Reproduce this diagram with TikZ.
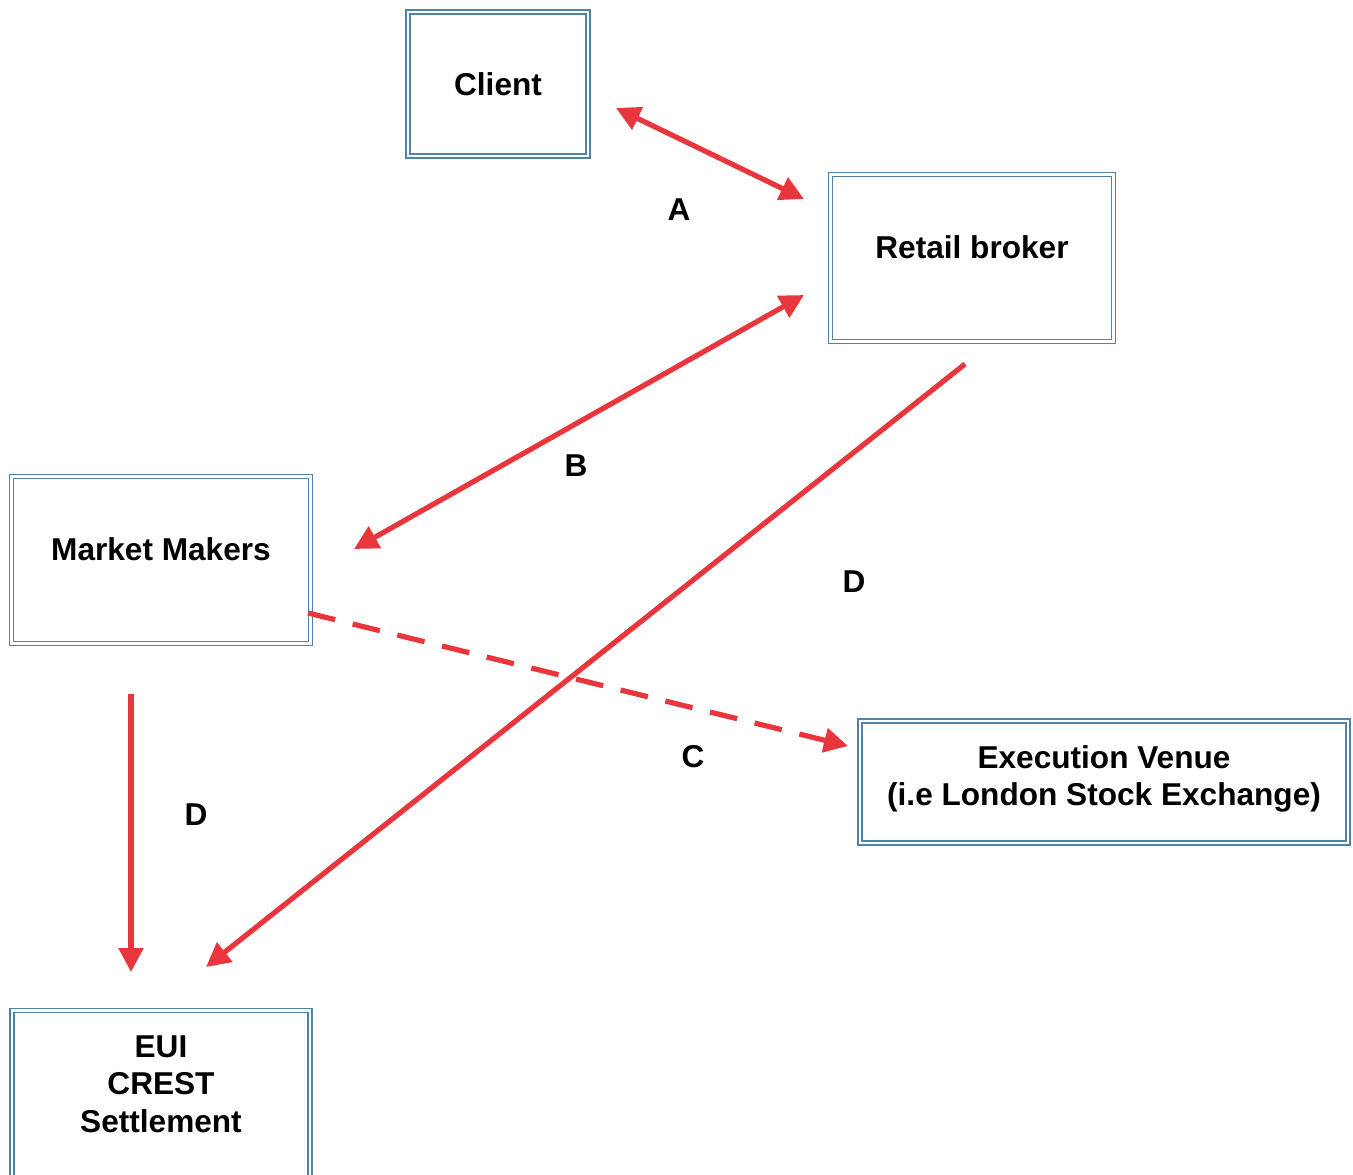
\documentclass[tikz,border=0pt]{standalone}
\usepackage{fontspec}
\setmainfont{Liberation Sans}
\usetikzlibrary{arrows.meta}
\definecolor{FlowRed}{HTML}{E8363C}
\definecolor{FrameBlue}{HTML}{4F83A6}

\begin{document}
\begin{tikzpicture}[x=0.5pt,y=-0.5pt,
  firm/.style={draw=FrameBlue, double=white, double distance=1.2pt, line width=0.85pt,
    align=center, inner sep=0pt, font=\fontsize{15.8}{18.8}\selectfont\bfseries},
  flow/.style={FlowRed, line width=2.6pt, -{Triangle[length=12pt,width=12pt]}},
  twoway/.style={flow, {Triangle[length=12pt,width=12pt]}-{Triangle[length=12pt,width=12pt]}},
  tag/.style={font=\fontsize{15.8}{18.8}\selectfont\bfseries, inner sep=0pt}]
\useasboundingbox (0,0) rectangle (1353,1174);
%
\node[firm, minimum width=90pt, minimum height=72pt] (client) at (498,84) {Client};
\node[firm, minimum width=141.5pt, minimum height=83.5pt, text depth=11pt] (broker) at (972,258) {Retail broker};
\node[firm, minimum width=149.5pt, minimum height=83.5pt, text depth=11pt] (makers) at (161,560) {Market Makers};
\node[firm, minimum width=244pt, minimum height=61pt, text depth=6.4pt] (venue) at (1104,782) {Execution Venue\\(i.e London Stock Exchange)};
\node[firm, minimum width=149pt, minimum height=83.5pt, text depth=10pt] (crest) at (161,1094) {EUI\\CREST\\Settlement};
%
\coordinate (aL) at (616,108);
\coordinate (aR) at (804,199);
\coordinate (bR) at (804,295);
\coordinate (bL) at (354,549);
\coordinate (dTop) at (965,364);
\coordinate (dEnd) at (206,967);
\coordinate (cStart) at (308,613);
\coordinate (cEnd) at (848,746);
\coordinate (mTop) at (131,694);
\coordinate (mEnd) at (131,972);
%
\draw[twoway] (aL) -- (aR);
\draw[twoway] (bR) -- (bL);
\draw[flow] (dTop) -- (dEnd);
\draw[flow, dash pattern=on 14pt off 9pt] (cStart) -- (cEnd);
\draw[flow] (mTop) -- (mEnd);
%
\node[tag] (labA) at (679,210) {A};
\node[tag] (labB) at (576,466) {B};
\node[tag] (labC) at (693,757) {C};
\node[tag] (labD) at (854,582) {D};
\node[tag] (labDm) at (196,815) {D};
\end{tikzpicture}
\end{document}
